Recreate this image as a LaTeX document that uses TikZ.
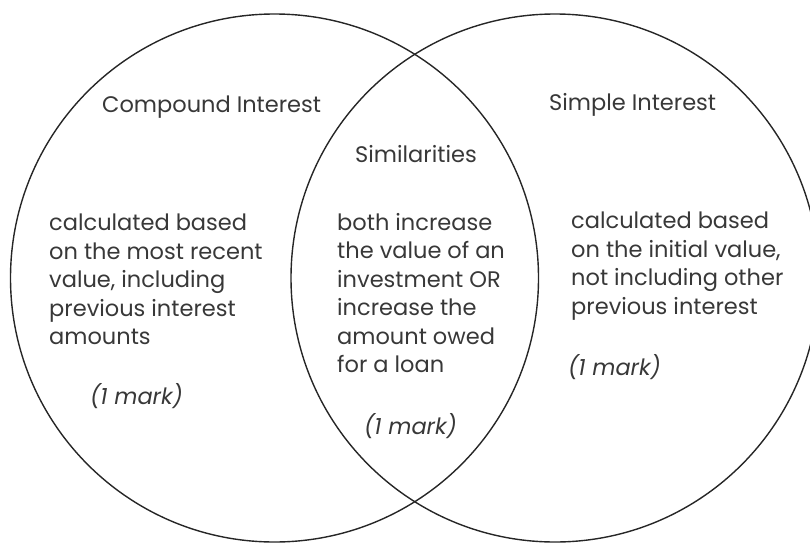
\documentclass[tikz,border=0pt]{standalone}
\usepackage{fontspec}
\setmainfont{Poppins}
\begin{document}
\begin{tikzpicture}[x=1pt,y=-1pt,
  venntext/.style={anchor=north west,align=left,inner sep=0pt,text=black!78,font=\fontsize{22.5}{28.5}\selectfont},
  marktext/.style={venntext,font=\fontsize{22.5}{28.5}\selectfont\itshape}]
\useasboundingbox (0,0) rectangle (810,543);
\clip (0,0) rectangle (810,543);
\draw [line width=1.4pt, black!85] (274.5,278) circle [radius=264];
\draw [line width=1.4pt, black!85] (555,278) circle [radius=264];
% titles
\node [venntext] (compound) at (102,96) {Compound Interest};
\node [venntext] (simple) at (549,93) {Simple Interest};
\node [venntext] (similar) at (355,145) {Similarities};
% the three texts
\node [venntext] (lefttext) at (49,214) {calculated based\\on the most recent\\value, including\\previous interest\\amounts};
\node [venntext] (midtext) at (337,213) {both increase\\the value of an\\investment OR\\increase the\\amount owed\\for a loan};
\node [venntext] (righttext) at (571,212) {calculated based\\on the initial value,\\not including other\\previous interest};
\node [marktext] (leftmark) at (90,383) {(1 mark)};
\node [marktext] (midmark) at (364,413) {(1 mark)};
\node [marktext] (rightmark) at (568,354) {(1 mark)};
\end{tikzpicture}
\end{document}
